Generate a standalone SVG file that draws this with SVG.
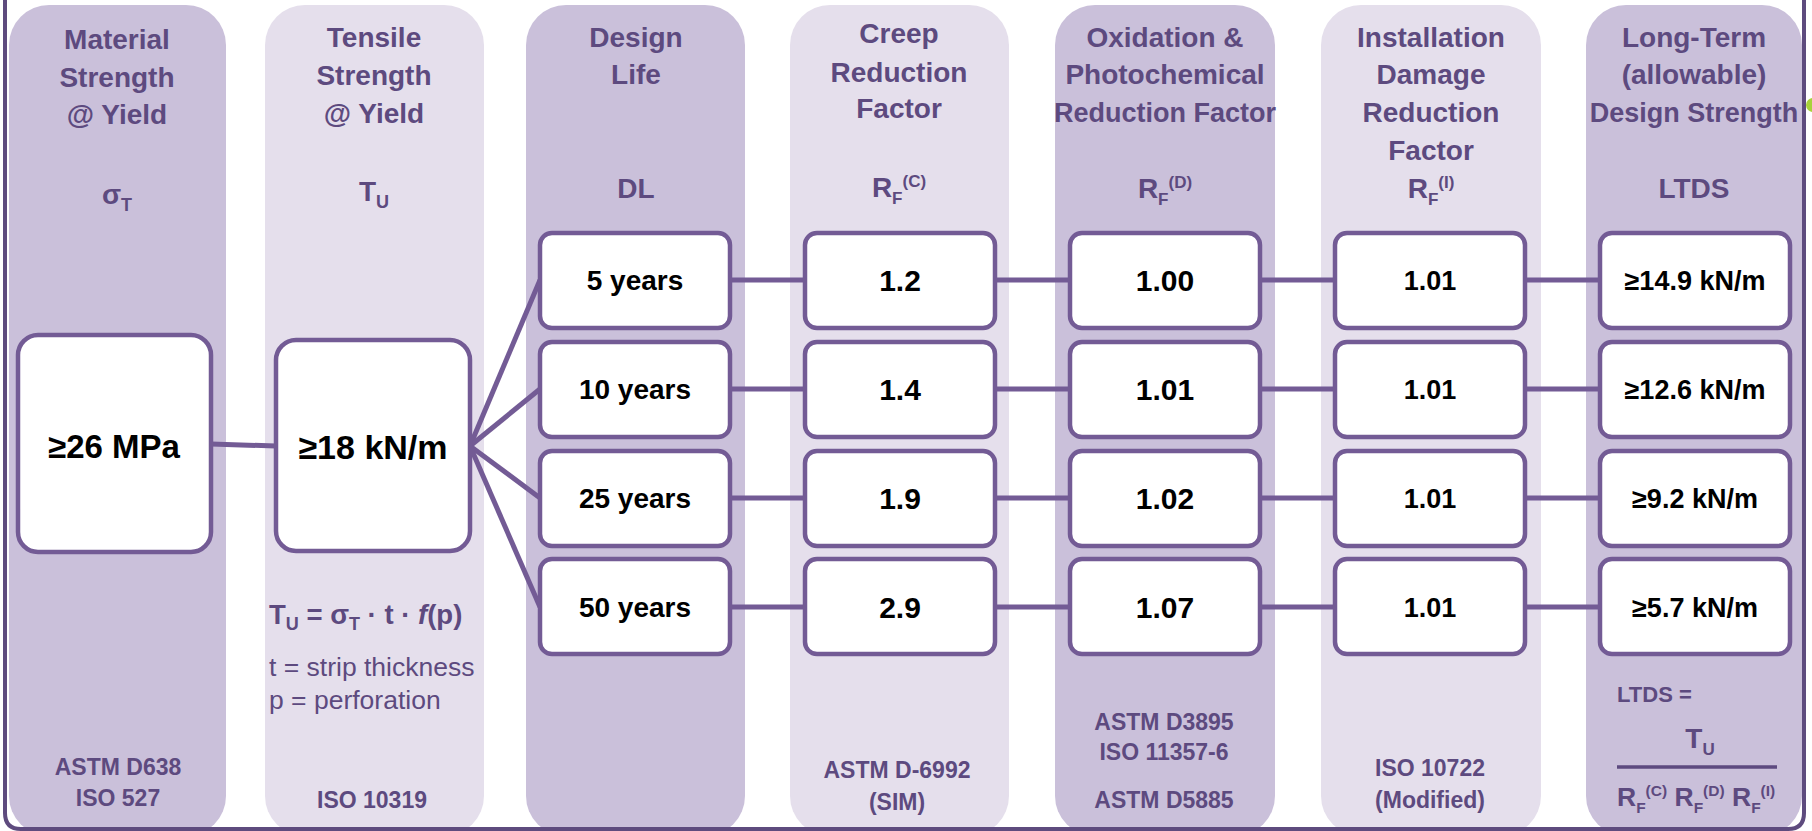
<svg xmlns="http://www.w3.org/2000/svg" width="1812" height="831" viewBox="0 0 1812 831">
<style>
.pd{fill:#cac0da}
.pl{fill:#e5dfec}
.h{font-family:"Liberation Sans",Arial,sans-serif;font-weight:bold;font-size:28px;fill:#5d4a7f;text-anchor:middle}
.hs{font-size:27px}
.sym{font-family:"Liberation Sans",Arial,sans-serif;font-weight:bold;font-size:28px;fill:#5d4a7f;text-anchor:middle}
.ref{font-family:"Liberation Sans",Arial,sans-serif;font-weight:bold;font-size:23px;fill:#5d4a7f;text-anchor:middle}
.note{font-family:"Liberation Sans",Arial,sans-serif;font-size:26.5px;fill:#5d4a7f}
.box{fill:#ffffff;stroke:#735b95;stroke-width:4.5}
.t{font-family:"Liberation Sans",Arial,sans-serif;font-weight:bold;fill:#000000;text-anchor:middle}
.con{stroke:#735b95;stroke-width:5;fill:none}
</style>

<!-- column panels -->
<g id="panels">
<rect class="pd" x="9" y="5" width="217" height="831" rx="40"/>
<rect class="pl" x="265" y="5" width="219" height="831" rx="40"/>
<rect class="pd" x="526" y="5" width="219" height="831" rx="40"/>
<rect class="pl" x="790" y="5" width="219" height="831" rx="40"/>
<rect class="pd" x="1055" y="5" width="220" height="831" rx="40"/>
<rect class="pl" x="1321" y="5" width="220" height="831" rx="40"/>
<rect class="pd" x="1586" y="5" width="216" height="831" rx="40"/>
</g>

<!-- frame -->
<path d="M5,-5 V813 Q5,829 21,829 H1788 Q1804,829 1804,813 V-5" fill="none" stroke="#5e4b7e" stroke-width="4"/>
<circle cx="1813" cy="105" r="7" fill="#a8d23a"/>

<!-- column headings -->
<g id="head-material">
<text class="h" x="117" y="49">Material</text>
<text class="h" x="117" y="87">Strength</text>
<text class="h" x="117" y="124">@ Yield</text>
<text class="sym" x="117" y="204">σ<tspan font-size="18" dy="7">T</tspan></text>
<text class="ref" x="118" y="775">ASTM D638</text>
<text class="ref" x="118" y="806">ISO 527</text>
</g>
<g id="head-tensile">
<text class="h" x="374" y="47">Tensile</text>
<text class="h" x="374" y="85">Strength</text>
<text class="h" x="374" y="123">@ Yield</text>
<text class="sym" x="374" y="201">T<tspan font-size="18" dy="7">U</tspan></text>
<text x="269" y="624" font-family="Liberation Sans, Arial, sans-serif" font-weight="bold" font-size="27.5" fill="#5d4a7f">T<tspan font-size="18" dy="6">U</tspan><tspan dy="-6"> = σ</tspan><tspan font-size="18" dy="6">T</tspan><tspan dy="-6"> · t · </tspan><tspan font-style="italic">f</tspan>(p)</text>
<text class="note" x="269" y="676">t = strip thickness</text>
<text class="note" x="269" y="709">p = perforation</text>
<text class="ref" x="372" y="808">ISO 10319</text>
</g>
<g id="head-life">
<text class="h" x="636" y="47">Design</text>
<text class="h" x="636" y="84">Life</text>
<text class="sym" x="636" y="198">DL</text>
</g>
<g id="head-creep">
<text class="h" x="899" y="43">Creep</text>
<text class="h" x="899" y="82">Reduction</text>
<text class="h" x="899" y="118">Factor</text>
<text class="sym" x="899" y="197">R<tspan font-size="17" dy="7">F</tspan><tspan font-size="17" dy="-17">(C)</tspan></text>
<text class="ref" x="897" y="778">ASTM D-6992</text>
<text class="ref" x="897" y="810">(SIM)</text>
</g>
<g id="head-oxidation">
<text class="h" x="1165" y="47">Oxidation &amp;</text>
<text class="h" x="1165" y="84">Photochemical</text>
<text class="h hs" x="1165" y="122">Reduction Factor</text>
<text class="sym" x="1165" y="198">R<tspan font-size="17" dy="7">F</tspan><tspan font-size="17" dy="-17">(D)</tspan></text>
<text class="ref" x="1164" y="730">ASTM D3895</text>
<text class="ref" x="1164" y="760">ISO 11357-6</text>
<text class="ref" x="1164" y="808">ASTM D5885</text>
</g>
<g id="head-installation">
<text class="h" x="1431" y="47">Installation</text>
<text class="h" x="1431" y="84">Damage</text>
<text class="h" x="1431" y="122">Reduction</text>
<text class="h" x="1431" y="160">Factor</text>
<text class="sym" x="1431" y="198">R<tspan font-size="17" dy="7">F</tspan><tspan font-size="17" dy="-17">(I)</tspan></text>
<text class="ref" x="1430" y="776">ISO 10722</text>
<text class="ref" x="1430" y="808">(Modified)</text>
</g>
<g id="head-ltds">
<text class="h" x="1694" y="47">Long-Term</text>
<text class="h" x="1694" y="84">(allowable)</text>
<text class="h hs" x="1694" y="122">Design Strength</text>
<text class="sym" x="1694" y="198">LTDS</text>
<text x="1617" y="702" font-family="Liberation Sans, Arial, sans-serif" font-weight="bold" font-size="22" fill="#5d4a7f">LTDS =</text>
<text class="sym" x="1700" y="748" font-size="26">T<tspan font-size="17" dy="7">U</tspan></text>
<line x1="1617" y1="767" x2="1777" y2="767" stroke="#5d4a7f" stroke-width="3.5"/>
<text x="1617" y="806" font-family="Liberation Sans, Arial, sans-serif" font-weight="bold" font-size="26.5" fill="#5d4a7f">R<tspan font-size="15.5" dy="7">F</tspan><tspan font-size="15.5" dy="-17">(C)</tspan><tspan dy="10"> R</tspan><tspan font-size="15.5" dy="7">F</tspan><tspan font-size="15.5" dy="-17">(D)</tspan><tspan dy="10"> R</tspan><tspan font-size="15.5" dy="7">F</tspan><tspan font-size="15.5" dy="-17">(I)</tspan></text>
</g>

<!-- connectors -->
<g id="connectors" class="con">
<line x1="211" y1="444" x2="276" y2="446"/>
<line x1="470" y1="446" x2="540" y2="280"/>
<line x1="470" y1="446" x2="540" y2="389"/>
<line x1="470" y1="446" x2="540" y2="498"/>
<line x1="470" y1="446" x2="540" y2="607"/>
<line x1="730" y1="280" x2="805" y2="280"/>
<line x1="730" y1="389" x2="805" y2="389"/>
<line x1="730" y1="498" x2="805" y2="498"/>
<line x1="730" y1="607" x2="805" y2="607"/>
<line x1="995" y1="280" x2="1070" y2="280"/>
<line x1="995" y1="389" x2="1070" y2="389"/>
<line x1="995" y1="498" x2="1070" y2="498"/>
<line x1="995" y1="607" x2="1070" y2="607"/>
<line x1="1260" y1="280" x2="1335" y2="280"/>
<line x1="1260" y1="389" x2="1335" y2="389"/>
<line x1="1260" y1="498" x2="1335" y2="498"/>
<line x1="1260" y1="607" x2="1335" y2="607"/>
<line x1="1525" y1="280" x2="1600" y2="280"/>
<line x1="1525" y1="389" x2="1600" y2="389"/>
<line x1="1525" y1="498" x2="1600" y2="498"/>
<line x1="1525" y1="607" x2="1600" y2="607"/>
</g>

<!-- nodes -->
<g id="n-sigma"><rect class="box" x="18" y="335" width="193" height="217" rx="20"/><text class="t" x="114" y="458" font-size="33">≥26 MPa</text></g>
<g id="n-tu"><rect class="box" x="276" y="340" width="194" height="211" rx="20"/><text class="t" x="373" y="459" font-size="34">≥18 kN/m</text></g>

<g id="n-dl5"><rect class="box" x="540" y="233" width="190" height="95" rx="12"/><text class="t" x="635" y="290" font-size="28">5 years</text></g>
<g id="n-dl10"><rect class="box" x="540" y="342" width="190" height="95" rx="12"/><text class="t" x="635" y="399" font-size="28">10 years</text></g>
<g id="n-dl25"><rect class="box" x="540" y="451" width="190" height="95" rx="12"/><text class="t" x="635" y="508" font-size="28">25 years</text></g>
<g id="n-dl50"><rect class="box" x="540" y="559" width="190" height="95" rx="12"/><text class="t" x="635" y="617" font-size="28">50 years</text></g>

<g id="n-c1"><rect class="box" x="805" y="233" width="190" height="95" rx="12"/><text class="t" x="900" y="291" font-size="30">1.2</text></g>
<g id="n-c2"><rect class="box" x="805" y="342" width="190" height="95" rx="12"/><text class="t" x="900" y="400" font-size="30">1.4</text></g>
<g id="n-c3"><rect class="box" x="805" y="451" width="190" height="95" rx="12"/><text class="t" x="900" y="509" font-size="30">1.9</text></g>
<g id="n-c4"><rect class="box" x="805" y="559" width="190" height="95" rx="12"/><text class="t" x="900" y="618" font-size="30">2.9</text></g>

<g id="n-d1"><rect class="box" x="1070" y="233" width="190" height="95" rx="12"/><text class="t" x="1165" y="291" font-size="30">1.00</text></g>
<g id="n-d2"><rect class="box" x="1070" y="342" width="190" height="95" rx="12"/><text class="t" x="1165" y="400" font-size="30">1.01</text></g>
<g id="n-d3"><rect class="box" x="1070" y="451" width="190" height="95" rx="12"/><text class="t" x="1165" y="509" font-size="30">1.02</text></g>
<g id="n-d4"><rect class="box" x="1070" y="559" width="190" height="95" rx="12"/><text class="t" x="1165" y="618" font-size="30">1.07</text></g>

<g id="n-i1"><rect class="box" x="1335" y="233" width="190" height="95" rx="12"/><text class="t" x="1430" y="290" font-size="27">1.01</text></g>
<g id="n-i2"><rect class="box" x="1335" y="342" width="190" height="95" rx="12"/><text class="t" x="1430" y="399" font-size="27">1.01</text></g>
<g id="n-i3"><rect class="box" x="1335" y="451" width="190" height="95" rx="12"/><text class="t" x="1430" y="508" font-size="27">1.01</text></g>
<g id="n-i4"><rect class="box" x="1335" y="559" width="190" height="95" rx="12"/><text class="t" x="1430" y="617" font-size="27">1.01</text></g>

<g id="n-l1"><rect class="box" x="1600" y="233" width="190" height="95" rx="12"/><text class="t" x="1695" y="290" font-size="27">≥14.9 kN/m</text></g>
<g id="n-l2"><rect class="box" x="1600" y="342" width="190" height="95" rx="12"/><text class="t" x="1695" y="399" font-size="27">≥12.6 kN/m</text></g>
<g id="n-l3"><rect class="box" x="1600" y="451" width="190" height="95" rx="12"/><text class="t" x="1695" y="508" font-size="27">≥9.2 kN/m</text></g>
<g id="n-l4"><rect class="box" x="1600" y="559" width="190" height="95" rx="12"/><text class="t" x="1695" y="617" font-size="27">≥5.7 kN/m</text></g>
</svg>
